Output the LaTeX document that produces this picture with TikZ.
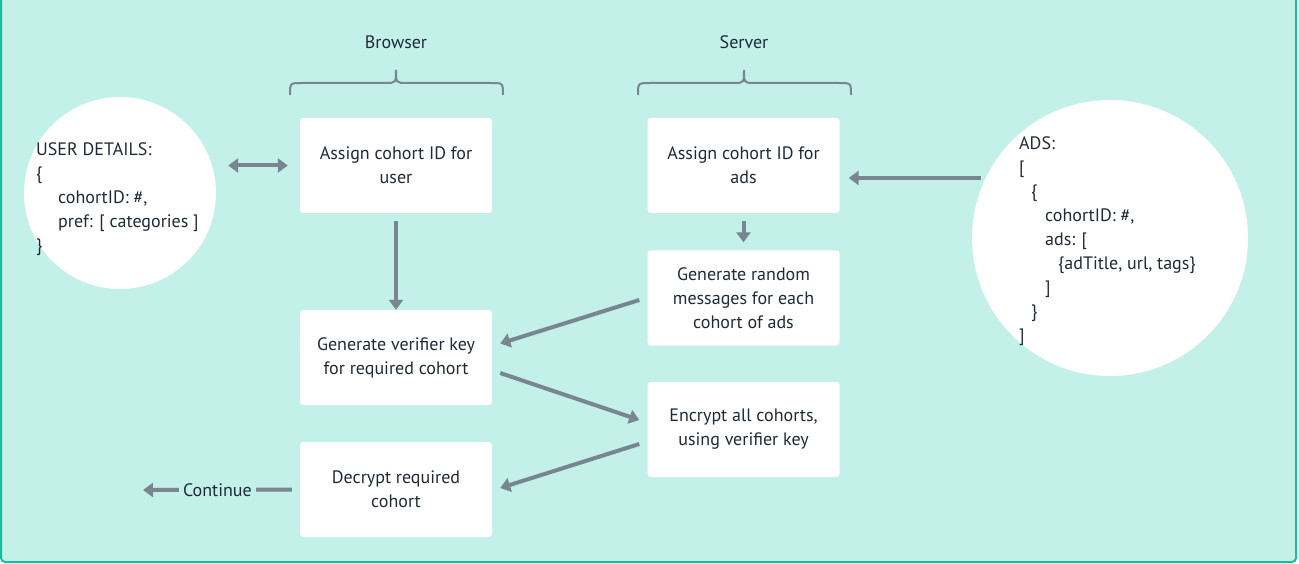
\documentclass[tikz,border=0pt]{standalone}
\usepackage{fontspec}
\setmainfont{PT Sans}
\usetikzlibrary{arrows.meta,calc}
\definecolor{bgc}{HTML}{C3F0E9}
\definecolor{bord}{HTML}{14BFA0}
\definecolor{arrc}{HTML}{77868F}
\definecolor{txt}{HTML}{1E2B37}
\tikzset{
  box/.style={fill=white, rounded corners=3pt, minimum width=192pt, minimum height=95pt, align=center, text=txt, font=\fontsize{18pt}{24pt}\selectfont, inner sep=0pt},
  blob/.style={circle, fill=white, inner sep=0pt},
  ctext/.style={align=left, anchor=west, text=txt, font=\fontsize{18pt}{24pt}\selectfont, inner sep=0pt},
  arr/.style={draw=arrc, line width=4pt, -{Triangle[length=10pt,width=14pt]}},
  brc/.style={draw=arrc, line width=2pt},
  lbl/.style={text=txt, font=\fontsize{18pt}{20pt}\selectfont, inner sep=1pt}
}
\begin{document}
\begin{tikzpicture}[x=1pt,y=-1pt]
\useasboundingbox (0,0) rectangle (1299,564);
\clip (0,0) rectangle (1299,564);
\draw[fill=bgc, draw=bord, line width=2pt, rounded corners=4pt] (1,-10) rectangle (1296,562);

% labels and braces
\node[lbl] (lbrowser) at (396,42) {Browser};
\node[lbl] (lserver) at (744,42) {Server};
\draw[brc] (290,95) .. controls (290,83) .. (302,83) -- (385,83) .. controls (396,83) .. (396,70) .. controls (396,83) .. (407,83) -- (491,83) .. controls (503,83) .. (503,95);
\draw[brc] (638,95) .. controls (638,83) .. (650,83) -- (733,83) .. controls (744,83) .. (744,70) .. controls (744,83) .. (755,83) -- (839,83) .. controls (851,83) .. (851,95);

% circles
\node[blob, minimum size=192pt] (uc) at (120,193) {};
\node[blob, minimum size=276pt] (ac) at (1110,238) {};
\node[ctext] (uctext) at (36,199) {USER DETAILS:\\\{\\\hspace*{22pt}cohortID: \#,\\\hspace*{22pt}pref: [ categories ]\\\}};
\node[ctext] (actext) at (1019,241) {ADS:\\[0pt]\relax[\\\hspace*{12pt}\{\\\hspace*{26pt}cohortID: \#,\\\hspace*{26pt}ads: [\\\hspace*{39pt}\{adTitle, url, tags\}\\\hspace*{26pt}]\\\hspace*{12pt}\}\\\relax]};

% boxes
\node[box] (b1) at (396,165.5) {Assign cohort ID for\\user};
\node[box] (b2) at (743.5,165.5) {Assign cohort ID for\\ads};
\node[box] (b3) at (743.5,298) {Generate random\\messages for each\\cohort of ads};
\node[box] (b4) at (396,357.5) {Generate verifier key\\for required cohort};
\node[box] (b5) at (743.5,429.5) {Encrypt all cohorts,\\using verifier key};
\node[box] (b6) at (396,489.5) {Decrypt required\\cohort};

% arrows
\draw[arr, {Triangle[length=10pt,width=14pt]}-{Triangle[length=10pt,width=14pt]}] ($(uc.east|-b1.west)+(12,0)$) -- ($(b1.west)+(-12,0)$);
\draw[arr] ($(b1.south)+(0,8)$) -- (b4.north);
\draw[arr] ($(b2.south)+(0,8)$) -- ($(b3.north)+(0,-8)$);
\draw[arr] ($(ac.west|-b2.east)+(9,12.5)$) -- ($(b2.east)+(9,12.5)$);
\draw[arr] ($(b3.west)+(-8,2)$) -- ($(b4.east)+(8,-14)$);
\draw[arr] ($(b4.east)+(8,15.5)$) -- ($(b5.west)+(-8,-9.5)$);
\draw[arr] ($(b5.west)+(-8,14.5)$) -- ($(b6.east)+(8,-1.5)$);
\coordinate (cont) at (143,490);
\draw[arr] ($(b6.west)+(-8,0)$) -- node[lbl, fill=bgc, inner xsep=4pt] (lcont) {Continue} (cont);
\end{tikzpicture}
\end{document}
